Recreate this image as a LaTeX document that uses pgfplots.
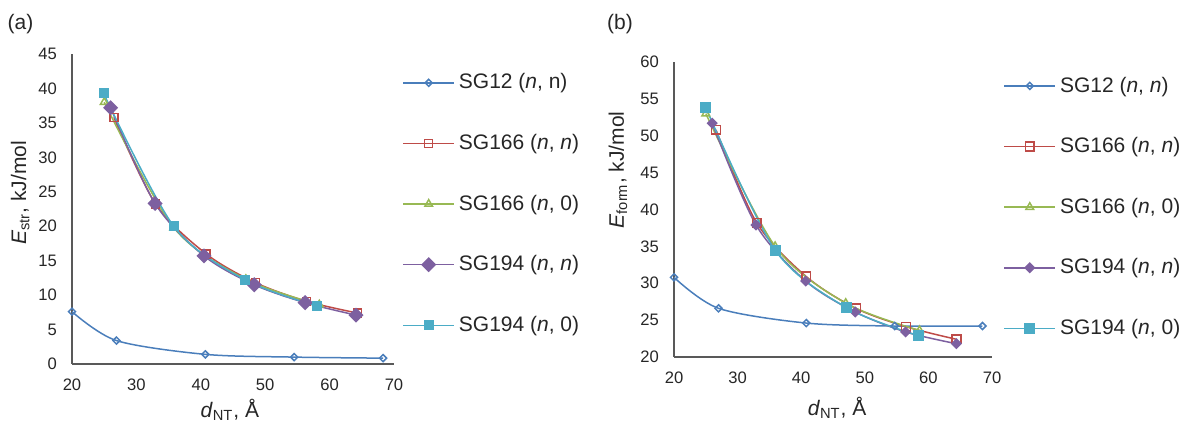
\documentclass[border=0pt]{standalone}
\usepackage{fontspec}
\setmainfont{Liberation Sans}
\usepackage{pgfplots}
\pgfplotsset{compat=1.18}
\definecolor{cBlue}{HTML}{4A7EBB}
\definecolor{cRed}{HTML}{BE4B48}
\definecolor{cGreen}{HTML}{98B954}
\definecolor{cPurple}{HTML}{7D60A0}
\definecolor{cAqua}{HTML}{4BACC6}
\definecolor{txt}{HTML}{262626}

\pgfplotsset{
  myaxis/.style={
    scale only axis, clip=false,
    axis x line=bottom, axis y line=left,
    axis line style={-, draw=black!65, line width=0.9pt},
    major tick length=0pt,
    tick label style={font=\fontsize{8.3}{10}\selectfont, text=txt},
    /pgf/number format/assume math mode=true,
    xmin=20, xmax=70, xtick={20,30,...,70},
    xticklabel style={yshift=-4pt},
    yticklabel style={xshift=-4pt},
    label style={font=\fontsize{10.5}{12}\selectfont, text=txt},
    legend style={draw=none, fill=none, inner sep=0pt, font=\fontsize{10.5}{12}\selectfont, text=txt, anchor=west, row sep=17.2pt},
    legend cell align=left,
    legend image code/.code={\draw[mark repeat=2,mark phase=2] plot coordinates {(0pt,0pt) (12.75pt,0pt) (25.5pt,0pt)};},
    every axis plot/.append style={line width=0.75pt, smooth},
  },
  sgA/.style={color=cBlue, mark=square, mark size=#1, mark options={rotate=45, fill=white, line width=0.75pt}},
  sgB/.style={color=cRed, mark=square, mark size=#1, mark options={fill=white, line width=0.75pt}},
  sgC/.style={color=cGreen, mark=triangle, mark size=#1, mark options={fill=white, line width=0.75pt}},
  sgD/.style={color=cPurple, mark=square*, mark size=#1, mark options={rotate=45}},
  sgE/.style={color=cAqua, mark=square*, mark size=#1},
}

\begin{document}
\begin{tikzpicture}
\path[use as bounding box] (0,0) rectangle (591.5pt,213.5pt);
\node[font=\fontsize{10.5}{12}\selectfont, text=txt] at (10.25pt,201.5pt) {(a)};
\node[font=\fontsize{10.5}{12}\selectfont, text=txt] at (310pt,201.5pt) {(b)};

\begin{axis}[myaxis,
  at={(36pt,31.5pt)}, anchor=south west,
  width=161pt, height=155pt,
  ymin=0, ymax=45, ytick={0,5,...,45},
  xlabel={\textit{d}\textsubscript{NT}, Å},
  ylabel={\textit{E}\textsubscript{str}, kJ/mol},
  xlabel style={at={(axis description cs:0.49,-0.148)}, anchor=center},
  ylabel style={at={(axis description cs:-0.161,0.552)}, anchor=center},
  legend style={at={(axis description cs:1.025,0.516)}},
]
\addplot[sgA=1.25pt] coordinates {(20,7.6) (26.9,3.4) (40.7,1.4) (54.5,1.0) (68.3,0.85)};
\addlegendentry{SG12 (\textit{n}, n)}
\addplot[sgB=2pt] coordinates {(26.5,35.8) (33.0,23.2) (40.8,16.0) (48.5,11.8) (56.4,9.1) (64.3,7.4)};
\addlegendentry{SG166 (\textit{n}, \textit{n})}
\addplot[sgC=2.2pt] coordinates {(25.0,38.0) (35.8,19.8) (47.0,12.3) (58.4,8.6)};
\addlegendentry{SG166 (\textit{n}, 0)}
\addplot[sgD=2.3pt] coordinates {(26.0,37.2) (32.9,23.3) (40.5,15.7) (48.3,11.5) (56.2,8.9) (64.1,7.1)};
\addlegendentry{SG194 (\textit{n}, \textit{n})}
\addplot[sgE=2.1pt] coordinates {(24.9,39.3) (35.8,20.0) (46.9,12.2) (58.1,8.4)};
\addlegendentry{SG194 (\textit{n}, 0)}
\end{axis}

\begin{axis}[myaxis,
  at={(337pt,35pt)}, anchor=south west,
  width=159pt, height=147.5pt,
  ymin=20, ymax=60, ytick={20,25,...,60},
  xlabel={\textit{d}\textsubscript{NT}, Å},
  ylabel={\textit{E}\textsubscript{form}, kJ/mol},
  xlabel style={at={(axis description cs:0.513,-0.173)}, anchor=center},
  ylabel style={at={(axis description cs:-0.176,0.634)}, anchor=center},
  legend style={at={(axis description cs:1.035,0.508)}},
]
\addplot[sgA=1.25pt] coordinates {(20,30.8) (27.0,26.6) (40.8,24.6) (54.7,24.2) (68.5,24.2)};
\addlegendentry{SG12 (\textit{n}, \textit{n})}
\addplot[sgB=2.2pt] coordinates {(26.6,50.8) (33.0,38.2) (40.8,30.9) (48.6,26.6) (56.5,24.1) (64.4,22.4)};
\addlegendentry{SG166 (\textit{n}, \textit{n})}
\addplot[sgC=2.2pt] coordinates {(25.0,53.0) (35.9,35.0) (47.0,27.3) (58.6,23.6)};
\addlegendentry{SG166 (\textit{n}, 0)}
\addplot[sgD=1.6pt] coordinates {(26.0,51.7) (32.9,37.9) (40.7,30.3) (48.5,26.1) (56.4,23.4) (64.4,21.8)};
\addlegendentry{SG194 (\textit{n}, \textit{n})}
\addplot[sgE=2.4pt] coordinates {(25.0,53.8) (35.9,34.5) (47.1,26.7) (58.4,22.9)};
\addlegendentry{SG194 (\textit{n}, 0)}
\end{axis}
\end{tikzpicture}
\end{document}
